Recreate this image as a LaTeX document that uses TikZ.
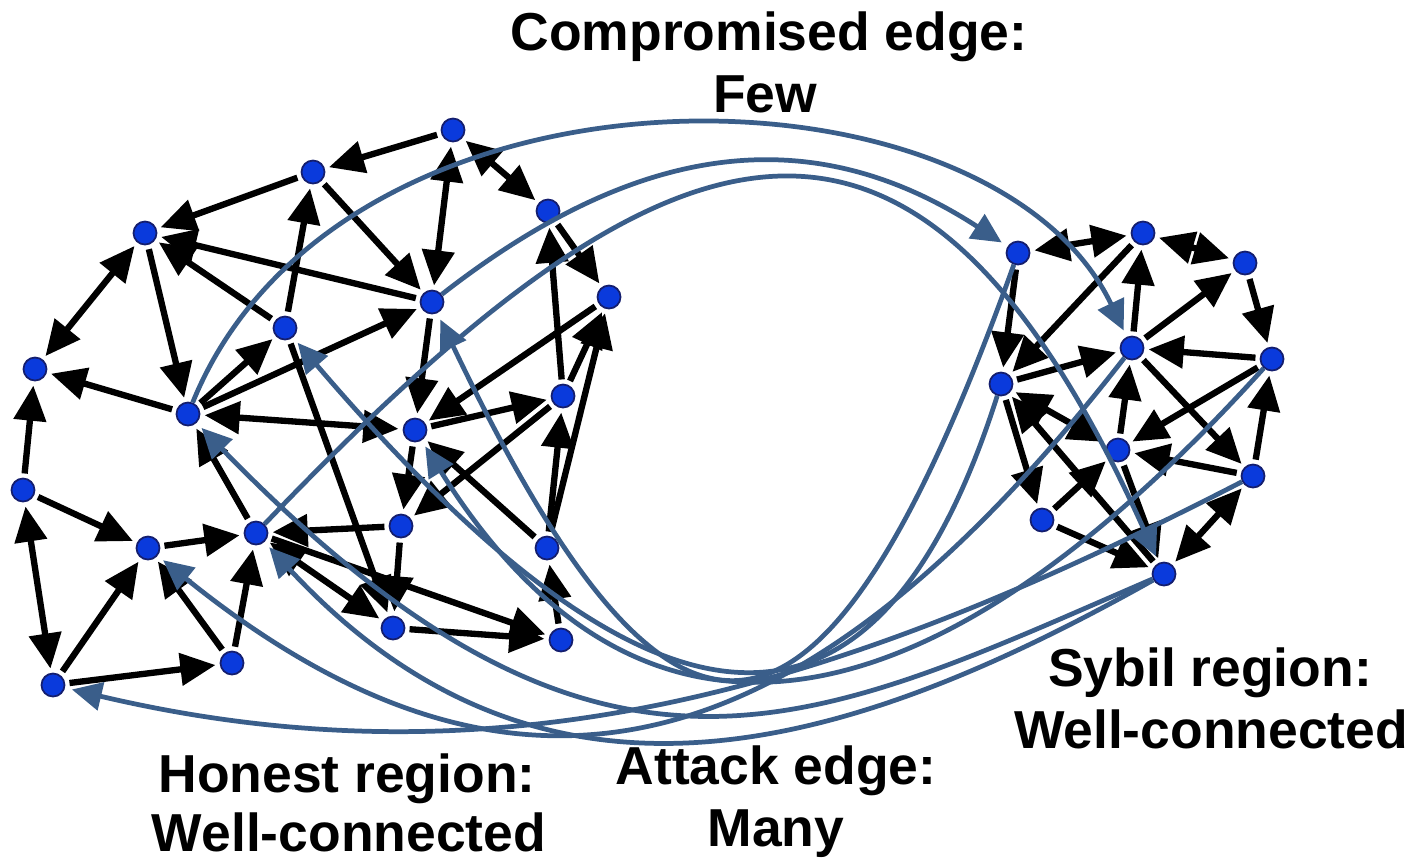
\documentclass[tikz,border=0pt]{standalone}
\usepackage{fontspec}
\setmainfont{Liberation Sans}
\usetikzlibrary{arrows.meta}
\definecolor{nodeblue}{RGB}{10,58,220}
\definecolor{nodeedge}{RGB}{20,30,110}
\definecolor{linkblue}{RGB}{58,94,138}
\begin{document}
\begin{tikzpicture}[x=0.01cm,y=-0.01cm,
  vtx/.style={circle,fill=nodeblue,draw=nodeedge,line width=0.5pt,minimum size=0.23cm,inner sep=0pt},
  onearrow/.style={line width=1.8pt,-{Triangle[length=10pt,width=9pt]},shorten >=1.2pt,shorten <=1.2pt},
  twoarrow/.style={line width=1.8pt,{Triangle[length=10pt,width=9pt]}-{Triangle[length=10pt,width=9pt]},shorten >=1.2pt,shorten <=1.2pt},
  link/.style={draw=linkblue,line width=1.35pt,-{Triangle[length=8.5pt,width=8pt]},shorten >=2pt},
  lbl/.style={font=\fontsize{15.2}{18}\selectfont\bfseries,anchor=base,inner sep=0pt}]
\useasboundingbox (0,0) rectangle (1413,859);

% honest region
\node[vtx] (H1) at (453,130) {};
\node[vtx] (H2) at (313,172) {};
\node[vtx] (H3) at (145,233) {};
\node[vtx] (H4) at (548,211) {};
\node[vtx] (H5) at (609,297) {};
\node[vtx] (H6) at (432,302) {};
\node[vtx] (H7) at (285,328) {};
\node[vtx] (H8) at (35,369) {};
\node[vtx] (H9) at (188,414) {};
\node[vtx] (H10) at (415,430) {};
\node[vtx] (H11) at (563,396) {};
\node[vtx] (H12) at (23,490) {};
\node[vtx] (H13) at (148,548) {};
\node[vtx] (H14) at (256,533) {};
\node[vtx] (H15) at (401,526) {};
\node[vtx] (H16) at (547,548) {};
\node[vtx] (H17) at (393,628) {};
\node[vtx] (H18) at (561,640) {};
\node[vtx] (H19) at (232,663) {};
\node[vtx] (H20) at (53,685) {};

% sybil region
\node[vtx] (S1) at (1018,253) {};
\node[vtx] (S2) at (1143,233) {};
\node[vtx] (S3) at (1245,263) {};
\node[vtx] (S4) at (1132,348) {};
\node[vtx] (S5) at (1272,359) {};
\node[vtx] (S6) at (1001,384) {};
\node[vtx] (S7) at (1118,450) {};
\node[vtx] (S8) at (1253,476) {};
\node[vtx] (S9) at (1042,520) {};
\node[vtx] (S10) at (1164,574) {};

% edges inside the honest region
\draw[onearrow] (H1) -- (H2);
\draw[onearrow] (H2) -- (H3);
\draw[onearrow] (H6) -- (H3);
\draw[onearrow] (H7) -- (H3);
\draw[twoarrow] (H3) -- (H8);
\draw[onearrow] (H3) -- (H9);
\draw[onearrow] (H9) -- (H8);
\draw[onearrow] (H12) -- (H8);
\draw[onearrow] (H2) -- (H6);
\draw[onearrow] (H7) -- (H2);
\draw[twoarrow] (H1) -- (H6);
\draw[twoarrow] (H1) -- (H4);
\draw[onearrow] (H9) -- (H7);
\draw[onearrow] (H9) -- (H6);
\draw[twoarrow] (H9) -- (H10);
\draw[onearrow] (H6) -- (H10);
\draw[onearrow] (H4) -- (H5);
\draw[onearrow] (H11) -- (H4);
\draw[onearrow] (H5) -- (H10);
\draw[onearrow] (H11) -- (H5);
\draw[onearrow] (H16) -- (H5);
\draw[onearrow] (H10) -- (H11);
\draw[onearrow] (H10) -- (H15);
\draw[onearrow] (H11) -- (H15);
\draw[onearrow] (H16) -- (H10);
\draw[onearrow] (H16) -- (H11);
\draw[onearrow] (H15) -- (H14);
\draw[onearrow] (H14) -- (H18);
\draw[onearrow] (H17) -- (H18);
\draw[onearrow] (H18) -- (H16);
\draw[twoarrow] (H14) -- (H17);
\draw[onearrow] (H7) -- (H17);
\draw[onearrow] (H15) -- (H17);
\draw[onearrow] (H12) -- (H13);
\draw[twoarrow] (H20) -- (H12);
\draw[onearrow] (H20) -- (H13);
\draw[onearrow] (H20) -- (H19);
\draw[onearrow] (H19) -- (H13);
\draw[onearrow] (H19) -- (H14);
\draw[onearrow] (H13) -- (H14);
\draw[onearrow] (H14) -- (H9);

% edges inside the sybil region
\draw[twoarrow] (S1) -- (S2);
\draw[twoarrow] (S2) -- (S3);
\draw[onearrow] (S1) -- (S6);
\draw[onearrow] (S2) -- (S6);
\draw[onearrow] (S4) -- (S2);
\draw[onearrow] (S4) -- (S3);
\draw[onearrow] (S3) -- (S5);
\draw[onearrow] (S5) -- (S4);
\draw[onearrow] (S6) -- (S4);
\draw[onearrow] (S4) -- (S8);
\draw[onearrow] (S5) -- (S7);
\draw[onearrow] (S7) -- (S4);
\draw[onearrow] (S8) -- (S5);
\draw[onearrow] (S8) -- (S7);
\draw[twoarrow] (S6) -- (S7);
\draw[onearrow] (S10) -- (S6);
\draw[onearrow] (S6) -- (S9);
\draw[onearrow] (S9) -- (S7);
\draw[onearrow] (S9) -- (S10);
\draw[onearrow] (S7) -- (S10);
\draw[twoarrow] (S8) -- (S10);

% compromised edges (honest to sybil)
\draw[link] (H9) .. controls (340,40) and (990,50) .. (S4);
\draw[link] (H6) .. controls (637,142) and (810,118) .. (S1);
\draw[link] (H14) .. controls (673,97) and (915,22) .. (S10);

% attack edges (sybil to honest)
\draw[link] (S1) .. controls (820,805) and (672,805) .. (H6);
\draw[link] (S6) .. controls (878,770) and (663,770) .. (H7);
\draw[link] (S5) .. controls (902,768) and (626,768) .. (H10);
\draw[link] (S10) .. controls (812,726) and (604,842) .. (H9);
\draw[link] (S10) .. controls (848,751) and (545,845) .. (H14);
\draw[link] (S4) .. controls (809,763) and (525,852) .. (H13);
\draw[link] (S8) .. controls (865,676) and (519,795) .. (H20);

% labels
\node[lbl] (t1) at (769,50) {Compromised edge:};
\node[lbl] (t2) at (765,112) {Few};
\node[lbl] (t3) at (1210,686) {Sybil region:};
\node[lbl] (t4) at (1211,748) {Well-connected};
\node[lbl] (t5) at (776,784) {Attack edge:};
\node[lbl] (t6) at (776,846) {Many};
\node[lbl] (t7) at (347,792) {Honest region:};
\node[lbl] (t8) at (349,851) {Well-connected};
\end{tikzpicture}
\end{document}
